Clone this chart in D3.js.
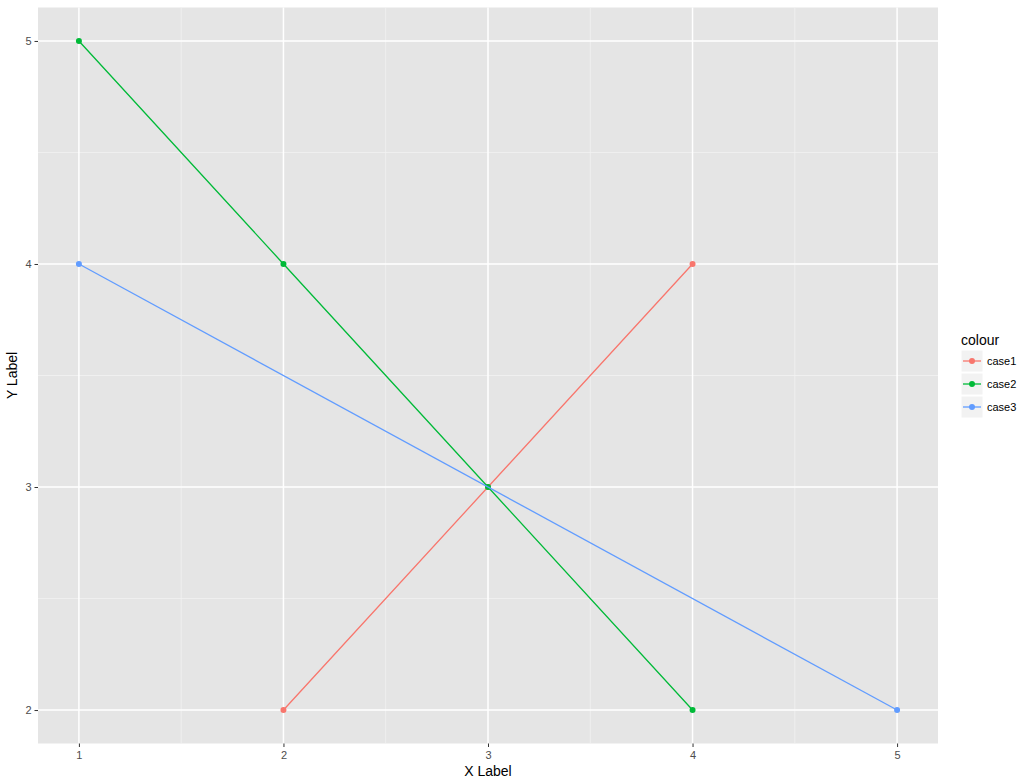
<!DOCTYPE html>
<html><head><meta charset="utf-8">
<script src="https://cdn.jsdelivr.net/npm/d3@7"></script>
<style>body{margin:0;background:#fff;} text{font-family:"Liberation Sans",Arial,sans-serif;}</style>
</head><body>
<svg id="c" width="1033" height="784"></svg>
<script>
const seriesNames = ["case1","case2","case3"];
const seriesColors = ["#F8766D","#00BA38","#619CFF"];
const case1X = [2,3,4], case1Y = [2,3,4];
const case2X = [1,2,3,4], case2Y = [5,4,3,2];
const case3X = [1,5], case3Y = [4,2];
const xTicks = [1,2,3,4,5];
const yTicks = [2,3,4,5];
const xMinor = [1.5,2.5,3.5,4.5];
const yMinor = [2.5,3.5,4.5];

const series = [
  {name:seriesNames[0], color:seriesColors[0], pts:case1X.map((x,i)=>[x,case1Y[i]])},
  {name:seriesNames[1], color:seriesColors[1], pts:case2X.map((x,i)=>[x,case2Y[i]])},
  {name:seriesNames[2], color:seriesColors[2], pts:case3X.map((x,i)=>[x,case3Y[i]])}
];

const svg = d3.select("#c");
const L=38, R=938, T=7.5, B=743.5;
const x = d3.scaleLinear().domain([0.8,5.2]).range([L,R]);
const y = d3.scaleLinear().domain([1.85,5.15]).range([B,T]);

svg.append("rect").attr("x",L).attr("y",T).attr("width",R-L).attr("height",B-T).attr("fill","#E5E5E5");
const g = svg.append("g");
g.selectAll(".xm").data(xMinor).enter().append("line").attr("x1",d=>x(d)).attr("x2",d=>x(d)).attr("y1",T).attr("y2",B).attr("stroke","#F2F2F2").attr("stroke-width",0.8);
g.selectAll(".ym").data(yMinor).enter().append("line").attr("y1",d=>y(d)).attr("y2",d=>y(d)).attr("x1",L).attr("x2",R).attr("stroke","#F2F2F2").attr("stroke-width",0.8);
g.selectAll(".xg").data(xTicks).enter().append("line").attr("x1",d=>x(d)).attr("x2",d=>x(d)).attr("y1",T).attr("y2",B).attr("stroke","#fff").attr("stroke-width",1.5);
g.selectAll(".yg").data(yTicks).enter().append("line").attr("y1",d=>y(d)).attr("y2",d=>y(d)).attr("x1",L).attr("x2",R).attr("stroke","#fff").attr("stroke-width",1.5);

const line = d3.line().x(d=>x(d[0])).y(d=>y(d[1]));
series.forEach(s=>{
  svg.append("path").attr("d",line(s.pts)).attr("fill","none").attr("stroke",s.color).attr("stroke-width",1.3);
  svg.selectAll(null).data(s.pts).enter().append("circle").attr("cx",d=>x(d[0])).attr("cy",d=>y(d[1])).attr("r",3).attr("fill",s.color);
});

// axes
const xAxis = d3.axisBottom(x).tickValues(xTicks).tickSize(3.5).tickPadding(4).tickFormat(d3.format("d"));
const xa = svg.append("g").attr("transform",`translate(0,${B})`).call(xAxis);
const yAxis = d3.axisLeft(y).tickValues(yTicks).tickSize(3.5).tickPadding(3).tickFormat(d3.format("d"));
const ya = svg.append("g").attr("transform",`translate(${L},0)`).call(yAxis);
[xa,ya].forEach(a=>{
  a.select(".domain").remove();
  a.selectAll("line").attr("stroke","#333").attr("stroke-width",1);
  a.selectAll("text").attr("fill","#4D4D4D").style("font-size","11px").style("font-family","'Liberation Sans',Arial,sans-serif");
});

svg.append("text").attr("x",(L+R)/2).attr("y",776).attr("text-anchor","middle").style("font-size","14px").attr("fill","#000").text("X Label");
svg.append("text").attr("transform",`translate(17,${(T+B)/2}) rotate(-90)`).attr("text-anchor","middle").style("font-size","14px").attr("fill","#000").text("Y Label");

// legend
const lg = svg.append("g");
lg.append("text").attr("x",961).attr("y",345).style("font-size","14px").attr("fill","#000").text("colour");
series.forEach((s,i)=>{
  const ky = 350 + i*23;
  lg.append("rect").attr("x",961).attr("y",ky).attr("width",22).attr("height",22).attr("fill","#F2F2F2").attr("stroke","#fff").attr("stroke-width",1);
  lg.append("line").attr("x1",963).attr("x2",981).attr("y1",ky+11).attr("y2",ky+11).attr("stroke",s.color).attr("stroke-width",1.3);
  lg.append("circle").attr("cx",972).attr("cy",ky+11).attr("r",3).attr("fill",s.color);
  lg.append("text").attr("x",987).attr("y",ky+15).style("font-size","11px").attr("fill","#000").text(s.name);
});
</script>
</body></html>
